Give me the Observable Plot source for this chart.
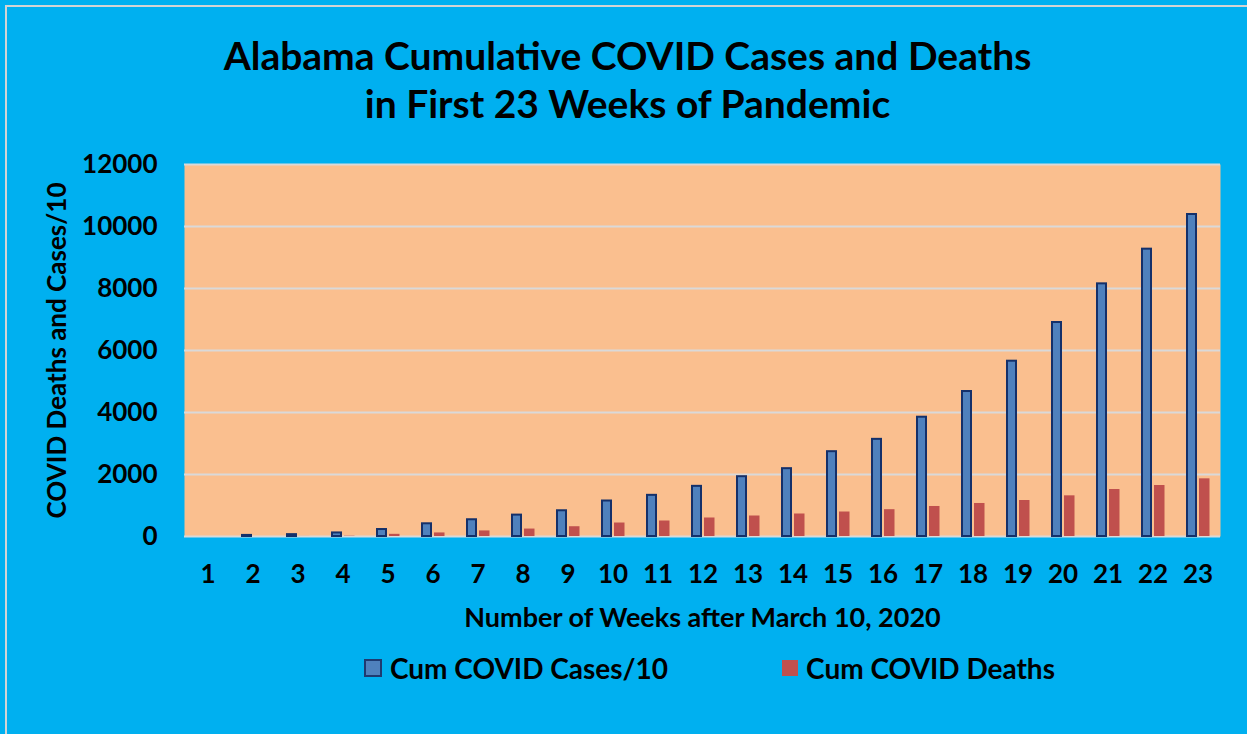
<!DOCTYPE html>
<html>
<head>
<meta charset="utf-8">
<script src="https://cdn.jsdelivr.net/npm/d3@7"></script>
<script src="https://cdn.jsdelivr.net/npm/@observablehq/plot@0.6"></script>
<style>
  html, body { margin: 0; padding: 0; }
  body { width: 1247px; height: 734px; background: #00B0F0; font-family: Lato, "Open Sans", sans-serif; overflow: hidden; position: relative; }
  #frame { position: absolute; left: 5px; top: 5px; right: 0; bottom: 0; border-left: 2px solid #D4D4D4; border-top: 2px solid #D4D4D4; pointer-events: none; }
  #title { height: 150px; box-sizing: border-box; padding-top: 31px; text-align: center; font-weight: bold; font-size: 39px; line-height: 48px; color: #000; padding-left: 8px; }
  #legend { height: 56px; line-height: 56px; display: flex; justify-content: center; font-weight: bold; font-size: 28px; color: #000; padding-left: 172px; }
  .item { display: flex; align-items: center; }
  .sw { width: 14px; height: 14px; display: inline-block; margin-right: 8px; }
</style>
</head>
<body>
<div id="frame"></div>
<div id="title">Alabama Cumulative COVID Cases and Deaths<br>in First 23 Weeks of Pandemic</div>
<div id="chart"></div>
<div id="legend">
  <span class="item" style="margin-right:114px"><span class="sw" style="background:#4F81BD;border:2px solid #1F3A70"></span>Cum COVID Cases/10</span>
  <span class="item"><span class="sw" style="background:#C0504D;width:16px;height:16px"></span>Cum COVID Deaths</span>
</div>
<script>
const weeks = d3.range(1, 24);
const casesOver10 = [0, 35, 60, 115, 225, 410, 540, 690, 830, 1145, 1328, 1618, 1929, 2188, 2736, 3134, 3848, 4677, 5655, 6903, 8150, 9269, 10387];
const deaths = [0, 0, 2, 10, 70, 115, 180, 240, 315, 435, 500, 597, 661, 726, 790, 865, 968, 1065, 1161, 1312, 1516, 1645, 1860];
const yTicks = [0, 2000, 4000, 6000, 8000, 10000, 12000];
const xTitle = "Number of Weeks after March 10, 2020";
const yTitle = "COVID Deaths and Cases/10";

const data = weeks.map((w, i) => ({week: w, cases: casesOver10[i], deaths: deaths[i]}));

const chart = Plot.plot({
  width: 1247,
  height: 490,
  marginTop: 14,
  marginBottom: 104,
  marginLeft: 184,
  marginRight: 27,
  style: {fontFamily: "Lato, 'Open Sans', sans-serif", fontWeight: "bold", background: "transparent", color: "#000", overflow: "visible"},
  x: {type: "band", domain: weeks, padding: 0},
  y: {domain: [0, 12000]},
  marks: [
    Plot.frame({fill: "#FABF8F", stroke: null}),
    Plot.ruleY(yTicks, {stroke: "#D9D9D9", strokeWidth: 2}),
    Plot.barY(data, {x: "week", y: "cases", fill: "#4F81BD", stroke: "#14306A", strokeWidth: 2, insetLeft: 12, insetRight: 24}),
    Plot.barY(data, {x: "week", y: "deaths", fill: "#C0504D", insetLeft: 24, insetRight: 10.5}),
    Plot.axisY({ticks: yTicks, tickFormat: d3.format("d"), tickSize: 0, tickPadding: 27, fontSize: 26, label: null}),
    Plot.axisX({tickSize: 0, tickPadding: 28, fontSize: 26, label: null}),
    Plot.text([xTitle], {frameAnchor: "bottom", text: d => d, dy: 90, fontSize: 27, fontWeight: "bold"}),
    Plot.text([yTitle], {frameAnchor: "left", text: d => d, dx: -127, rotate: -90, textAnchor: "middle", fontSize: 26, fontWeight: "bold"})
  ]
});
document.getElementById("chart").appendChild(chart);
</script>
</body>
</html>
